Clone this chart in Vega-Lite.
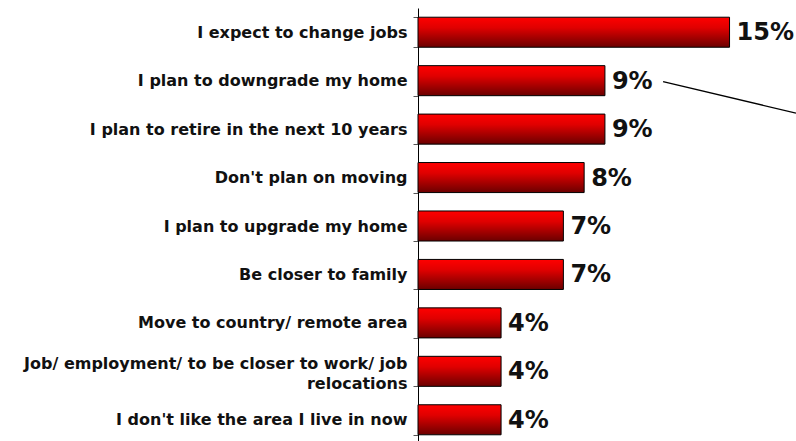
{
  "$schema": "https://vega.github.io/schema/vega-lite/v6.json",
  "width": 378,
  "height": 436,
  "autosize": "none",
  "padding": {"left": 418, "top": 8, "right": 0, "bottom": 0},
  "background": "white",
  "config": {"view": {"stroke": null}, "font": "DejaVu Sans"},
  "datasets": {
    "bars": [
      {"reason": "I expect to change jobs", "pct": 0.15},
      {"reason": "I plan to downgrade my home", "pct": 0.09},
      {"reason": "I plan to retire in the next 10 years", "pct": 0.09},
      {"reason": "Don't plan on moving", "pct": 0.08},
      {"reason": "I plan to upgrade my home", "pct": 0.07},
      {"reason": "Be closer to family", "pct": 0.07},
      {"reason": "Move to country/ remote area", "pct": 0.04},
      {"reason": "Job/ employment/ to be closer to work/ job relocations", "pct": 0.04},
      {"reason": "I don't like the area I live in now", "pct": 0.04}
    ],
    "callout": [
      {"from": "I plan to downgrade my home", "to": "I plan to retire in the next 10 years", "x1": 0.118, "x2": 0.182}
    ]
  },
  "layer": [
    {
      "data": {"name": "bars"},
      "encoding": {
        "y": {
          "field": "reason",
          "type": "nominal",
          "sort": null,
          "scale": {
            "domain": [
              "I expect to change jobs",
              "I plan to downgrade my home",
              "I plan to retire in the next 10 years",
              "Don't plan on moving",
              "I plan to upgrade my home",
              "Be closer to family",
              "Move to country/ remote area",
              "Job/ employment/ to be closer to work/ job relocations",
              "I don't like the area I live in now"
            ],
            "paddingInner": 0.38,
            "paddingOuter": 0.19
          },
          "axis": {
            "title": null,
            "domainColor": "black",
            "domainWidth": 1,
            "tickColor": "#555",
            "tickSize": 5,
            "tickBand": "extent",
            "labelFont": "DejaVu Sans",
            "labelFontWeight": "bold",
            "labelFontSize": 16,
            "labelLineHeight": 20,
            "labelColor": "#111",
            "labelPadding": 6,
            "labelLimit": 0,
            "labelOffset": {"condition": {"test": "datum.value == 'Job/ employment/ to be closer to work/ job relocations'", "value": -8}, "value": 0},
            "labelExpr": "datum.label == 'Job/ employment/ to be closer to work/ job relocations' ? ['Job/ employment/ to be closer to work/ job', 'relocations'] : datum.label"
          }
        },
        "x": {
          "field": "pct",
          "type": "quantitative",
          "scale": {"domain": [0, 0.182], "nice": false},
          "axis": null
        }
      },
      "layer": [
        {
          "mark": {
            "type": "bar",
            "stroke": "black",
            "strokeWidth": 1,
            "color": {
              "gradient": "linear",
              "x1": 0, "y1": 0, "x2": 0, "y2": 1,
              "stops": [
                {"offset": 0, "color": "#ff0000"},
                {"offset": 0.35, "color": "#e00000"},
                {"offset": 1, "color": "#6b0000"}
              ]
            }
          }
        },
        {
          "mark": {
            "type": "text",
            "align": "left",
            "baseline": "middle",
            "dx": 7,
            "dy": 1,
            "font": "DejaVu Sans",
            "fontWeight": "bold",
            "fontSize": 24,
            "color": "#111"
          },
          "encoding": {"text": {"field": "pct", "type": "quantitative", "format": ".0%"}}
        }
      ]
    },
    {
      "data": {"name": "callout"},
      "mark": {"type": "rule", "color": "black", "strokeWidth": 1.3, "yOffset": 1, "y2Offset": -16},
      "encoding": {
        "y": {"field": "from", "type": "nominal", "sort": null},
        "y2": {"field": "to"},
        "x": {"field": "x1", "type": "quantitative"},
        "x2": {"field": "x2"}
      }
    }
  ]
}
